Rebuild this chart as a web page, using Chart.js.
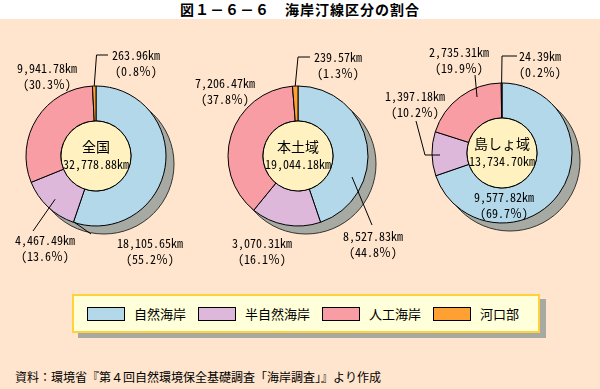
<!DOCTYPE html>
<html lang="ja">
<head>
<meta charset="utf-8">
<title>海岸汀線区分の割合</title>
<script src="https://cdn.jsdelivr.net/npm/chart.js@4.4.1/dist/chart.umd.min.js"></script>
<style>
    html, body { margin: 0; padding: 0; }
    body {
        width: 600px; height: 389px; overflow: hidden; position: relative;
        background: #FFE5CD; font-family: "Noto Sans Mono CJK JP", "Noto Sans CJK JP", sans-serif; color: #000;
    }
    .title-bar {
        position: absolute; left: 0; top: 0; width: 600px; height: 19px;
        background: #fff; text-align: center; font-size: 14px; font-weight: bold; line-height: 19px;
        letter-spacing: 1px;
    }
    canvas.donut { position: absolute; top: 20px; }
    .legend {
        position: absolute; left: 72px; top: 294px; width: 451px; height: 35px;
        background: #FFFFD9; border: 2px solid #FFD23C; box-shadow: 6px 5px 0 #A7AAA2;
        display: flex; align-items: center; padding-left: 13px; box-sizing: content-box;
    }
    .legend-item { display: flex; align-items: center; margin-right: 12px; font-size: 13px; }
    .legend-item span.box { width: 36px; height: 12px; border: 1px solid #000; margin-right: 9px; }
    .source { position: absolute; left: 15px; top: 368px; font-size: 12px; }
</style>
</head>
<body>
<div class="title-bar">図１－６－６　海岸汀線区分の割合</div>
<canvas id="chart-zenkoku" class="donut" width="260" height="270"></canvas>
<canvas id="chart-hondo" class="donut" width="260" height="270"></canvas>
<canvas id="chart-tosho" class="donut" width="260" height="270"></canvas>
<div class="legend" id="legend"></div>
<div class="source">資料：環境省『第４回自然環境保全基礎調査「海岸調査」』より作成</div>

<script>
// --- DATA ---
const categories = ['自然海岸', '半自然海岸', '人工海岸', '河口部'];
const regionNames = ['全国', '本土域', '島しょ域'];
const regionTotals = [32778.88, 19044.18, 13734.70];
const zenkokuKm = [18105.65, 4467.49, 9941.78, 263.96];
const hondoKm = [8527.83, 3070.31, 7206.47, 239.57];
const toshoKm = [9577.82, 1397.18, 2735.31, 24.39];
const zenkokuPct = [55.2, 13.6, 30.3, 0.8];
const hondoPct = [44.8, 16.1, 37.8, 1.3];
const toshoPct = [69.7, 10.2, 19.9, 0.2];

const colors = ['#B2D8EA', '#DDB8DB', '#F99DA5', '#FFA033'];
const FONT = '"Noto Sans Mono CJK JP", "Noto Sans CJK JP", sans-serif';

// --- LAYOUT (label offsets from each donut centre) ---
const centers = [{ x: 96, y: 156 }, { x: 298, y: 156 }, { x: 502, y: 153 }];
const labelLayouts = [
    [
        { dx: 54, dy: 87, leader: [[-22, 66], [-5, 78]] },
        { dx: -51, dy: 84, leader: [['arc', 0.85], [-63, 75]] },
        { dx: -49, dy: -88 },
        { dx: 40, dy: -101, leader: [['arc', 1], [0.5, -101], [12, -101]] }
    ],
    [
        { dx: 75, dy: 80, leader: [[54, 21], [74, 69]] },
        { dx: -36, dy: 87 },
        { dx: -73, dy: -73 },
        { dx: 40, dy: -99, leader: [['arc', 1], [0, -99], [12, -99]] }
    ],
    [
        { dx: 2, dy: 44 },
        { dx: -87, dy: -57, leader: [[-86, -32], [-77, 2], [-62, 2]] },
        { dx: -43, dy: -101, leader: [[-27, -78], [-25, -56]] },
        { dx: 38, dy: -97, leader: [['arc', 1], [0, -97], [15, -97]] }
    ]
];

const fmtKm = v => v.toLocaleString('en-US', { minimumFractionDigits: 2, maximumFractionDigits: 2 }) + '㎞';
const fmtPct = p => '(' + p.toFixed(1) + '％)';

// --- DONUT DECORATION PLUGIN ---
const donutDecor = {
    id: 'donutDecor',
    beforeDatasetsDraw(chart) {
        const arc = chart.getDatasetMeta(0).data[0];
        const ctx = chart.ctx;
        ctx.save();
        ctx.beginPath();
        ctx.arc(arc.x + 8, arc.y + 8, arc.outerRadius, 0, Math.PI * 2);
        ctx.fillStyle = '#A7AAA2';
        ctx.fill();
        ctx.strokeStyle = '#333';
        ctx.lineWidth = 1;
        ctx.stroke();
        ctx.restore();
    },
    afterDatasetsDraw(chart, args, opts) {
        const arcs = chart.getDatasetMeta(0).data;
        const { x, y, innerRadius, outerRadius } = arcs[0];
        const ctx = chart.ctx;
        ctx.save();

        // centre disc
        ctx.beginPath();
        ctx.arc(x, y, innerRadius, 0, Math.PI * 2);
        ctx.fillStyle = '#FFF2C0';
        ctx.fill();
        ctx.strokeStyle = '#000';
        ctx.lineWidth = 1;
        ctx.stroke();

        ctx.fillStyle = '#000';
        ctx.textAlign = 'center';
        ctx.textBaseline = 'middle';
        ctx.font = '14px ' + FONT;
        ctx.fillText(opts.name, x, y - 9);
        ctx.font = '12px ' + FONT;
        ctx.fillText(fmtKm(opts.total), x, y + 8);

        // leaders
        ctx.strokeStyle = '#000';
        ctx.lineWidth = 1;
        opts.layout.forEach((lab, i) => {
            if (!lab.leader) return;
            const a = arcs[i];
            ctx.beginPath();
            lab.leader.forEach((p, k) => {
                let px, py;
                if (p[0] === 'arc') {
                    const mid = (a.startAngle + a.endAngle) / 2;
                    const r = outerRadius * p[1];
                    px = x + r * Math.cos(mid);
                    py = y + r * Math.sin(mid);
                } else {
                    px = x + p[0];
                    py = y + p[1];
                }
                if (k === 0) ctx.moveTo(px, py); else ctx.lineTo(px, py);
            });
            ctx.stroke();
        });

        // value labels
        const values = chart.data.datasets[0].data;
        ctx.font = '12px ' + FONT;
        opts.layout.forEach((lab, i) => {
            ctx.fillText(fmtKm(values[i]), x + lab.dx, y + lab.dy);
            ctx.fillText(fmtPct(opts.pct[i]), x + lab.dx, y + lab.dy + 16);
        });
        ctx.restore();
    }
};

document.addEventListener('DOMContentLoaded', () => {
    const ids = ['chart-zenkoku', 'chart-hondo', 'chart-tosho'];
    const seriesKm = [zenkokuKm, hondoKm, toshoKm];
    const seriesPct = [zenkokuPct, hondoPct, toshoPct];
    const R = 70.5;

    ids.forEach((id, n) => {
        const canvas = document.getElementById(id);
        const c = centers[n];
        canvas.style.left = (c.x - 130) + 'px';
        const cy = c.y - 20;

        new Chart(canvas, {
            type: 'doughnut',
            data: {
                labels: categories,
                datasets: [{
                    data: seriesKm[n],
                    backgroundColor: colors,
                    borderColor: '#000',
                    borderWidth: 1,
                    hoverOffset: 0,
                    offset: 0
                }]
            },
            options: {
                responsive: false,
                animation: false,
                cutout: '50%',
                layout: {
                    padding: { left: 130 - R, right: 130 - R, top: cy - R, bottom: 270 - cy - R }
                },
                events: [],
                plugins: {
                    legend: { display: false },
                    tooltip: { enabled: false },
                    donutDecor: {
                        name: regionNames[n],
                        total: regionTotals[n],
                        pct: seriesPct[n],
                        layout: labelLayouts[n]
                    }
                }
            },
            plugins: [donutDecor]
        });
    });

    // --- LEGEND ---
    const legend = document.getElementById('legend');
    categories.forEach((name, i) => {
        const item = document.createElement('div');
        item.className = 'legend-item';
        item.innerHTML = `<span class="box" style="background:${colors[i]}"></span>${name}`;
        legend.appendChild(item);
    });
});
</script>
</body>
</html>
